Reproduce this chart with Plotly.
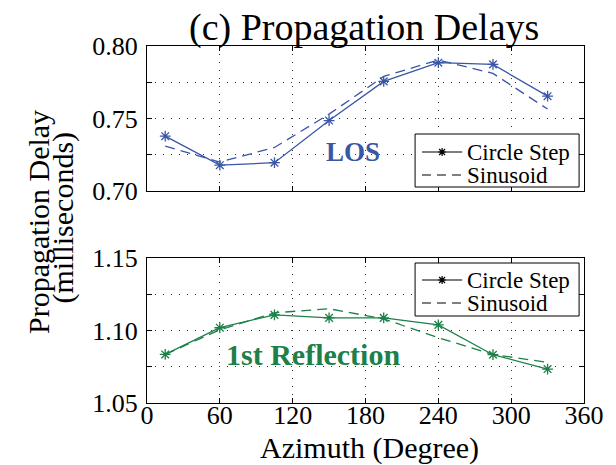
import plotly.graph_objects as go

# Azimuth positions (degrees)
azimuth = [15, 60, 105, 150, 195, 240, 285, 330]

# Line-of-sight delays (milliseconds)
los_circle_step = [0.7378, 0.7178, 0.7195, 0.7486, 0.7756, 0.7885, 0.7873, 0.7654]
los_sinusoid = [0.7310, 0.7200, 0.7300, 0.7530, 0.7790, 0.7903, 0.7811, 0.7565]

# First-reflection delays (milliseconds)
ref_circle_step = [1.0835, 1.1019, 1.1108, 1.1087, 1.1087, 1.1039, 1.0833, 1.0734]
ref_sinusoid = [1.0835, 1.1005, 1.1122, 1.1150, 1.1080, 1.0950, 1.0835, 1.0780]

x_ticks = [0, 60, 120, 180, 240, 300, 360]
los_ticks = [0.70, 0.725, 0.75, 0.775, 0.80]
los_ticktext = ["0.70", "", "0.75", "", "0.80"]
ref_ticks = [1.05, 1.075, 1.10, 1.125, 1.15]
ref_ticktext = ["1.05", "", "1.10", "", "1.15"]

legend_labels = ["Circle Step", "Sinusoid"]

BLUE = "#3A56A6"
GREEN = "#1C8048"
FONT = "Liberation Serif, Times New Roman, serif"

W, H = 616, 465
ML, MR, MT, MB = 147, 24, 46, 62
PW, PH = W - ML - MR, H - MT - MB


def px(x):
    return (x - ML) / PW


def py(y):
    return (H - MB - y) / PH


fig = go.Figure()

panels = [
    ("x", "y", los_circle_step, los_sinusoid, BLUE),
    ("x2", "y2", ref_circle_step, ref_sinusoid, GREEN),
]
for xa, ya, circ, sine, color in panels:
    fig.add_trace(go.Scatter(
        x=azimuth, y=sine, xaxis=xa, yaxis=ya, mode="lines",
        name=legend_labels[1],
        line=dict(color=color, width=1.3, dash="10px,6px"), showlegend=False))
    fig.add_trace(go.Scatter(
        x=azimuth, y=circ, xaxis=xa, yaxis=ya, mode="lines+markers",
        name=legend_labels[0],
        line=dict(color=color, width=1.3),
        marker=dict(symbol="asterisk-open", size=9,
                    line=dict(color=color, width=1.3)),
        showlegend=False))

axis_common = dict(
    showline=True, linecolor="black", linewidth=1, mirror="ticks",
    ticks="inside", ticklen=5, tickcolor="black",
    showgrid=True, gridcolor="#333333", gridwidth=1, griddash="1px,7px",
    zeroline=False, tickfont=dict(family=FONT, size=26, color="black"),
)

top_dom = [py(191), 1.0]
bot_dom = [0.0, py(258)]

fig.update_layout(
    width=W, height=H,
    margin=dict(l=ML, r=MR, t=MT, b=MB),
    paper_bgcolor="white", plot_bgcolor="white",
    font=dict(family=FONT, color="black"),
    showlegend=False,
    xaxis=dict(axis_common, domain=[0, 1], range=[0, 360], tickvals=x_ticks,
               showticklabels=False, anchor="y"),
    yaxis=dict(axis_common, domain=top_dom, range=[0.70, 0.80],
               tickvals=los_ticks, ticktext=los_ticktext, anchor="x",
               ticklabelstandoff=3),
    xaxis2=dict(axis_common, domain=[0, 1], range=[0, 360], tickvals=x_ticks,
                anchor="y2", ticklabelstandoff=-11),
    yaxis2=dict(axis_common, domain=bot_dom, range=[1.05, 1.15],
                tickvals=ref_ticks, ticktext=ref_ticktext, anchor="x2",
                ticklabelstandoff=3),
)

# Boxed legends with black keys, one per panel
shapes = []
annotations = []


def seg(x0, y0, x1, y1):
    return f"M{px(x0)},{py(y0)}L{px(x1)},{py(y1)}"


def add_legend(box_top, box_bottom, row1, row2):
    left, right = 420, 587
    shapes.append(dict(type="rect", xref="paper", yref="paper",
                       x0=px(left), x1=px(right), y0=py(box_bottom), y1=py(box_top),
                       line=dict(color="black", width=1), fillcolor="white",
                       layer="above"))
    k0, k1 = 427, 468
    kc = (k0 + k1) / 2
    shapes.append(dict(type="line", xref="paper", yref="paper",
                       x0=px(k0), x1=px(k1), y0=py(row1), y1=py(row1),
                       line=dict(color="black", width=1.2), layer="above"))
    star = (seg(kc - 4, row1, kc + 4, row1) + seg(kc, row1 - 4, kc, row1 + 4)
            + seg(kc - 3, row1 - 3, kc + 3, row1 + 3)
            + seg(kc - 3, row1 + 3, kc + 3, row1 - 3))
    shapes.append(dict(type="path", xref="paper", yref="paper", path=star,
                       line=dict(color="black", width=1.2), layer="above"))
    shapes.append(dict(type="line", xref="paper", yref="paper",
                       x0=px(k0), x1=px(k1), y0=py(row2), y1=py(row2),
                       line=dict(color="black", width=1.2, dash="9px,6px"),
                       layer="above"))
    for label, row in zip(legend_labels, [row1, row2]):
        annotations.append(dict(text=label, x=px(471), y=py(row),
                                xanchor="left", yanchor="middle",
                                font=dict(family=FONT, size=23, color="black")))


add_legend(134, 187, 152, 175)
add_legend(263, 316, 280, 303)

annotations += [
    dict(text="(c) Propagation Delays", x=px(368), y=py(28),
         font=dict(family=FONT, size=38, color="black")),
    dict(text="Propagation Delay", x=px(36), y=py(222), textangle=-90,
         font=dict(family=FONT, size=30, color="black")),
    dict(text="(milliseconds)", x=px(61), y=py(218), textangle=-90,
         font=dict(family=FONT, size=30, color="black")),
    dict(text="Azimuth (Degree)", x=px(374), y=py(448),
         font=dict(family=FONT, size=30, color="black")),
    dict(text="<b>LOS</b>", x=px(357), y=py(152),
         font=dict(family=FONT, size=27, color=BLUE)),
    dict(text="<b>1st Reflection</b>", x=px(316), y=py(354),
         font=dict(family=FONT, size=30, color=GREEN)),
]
for a in annotations:
    a.update(xref="paper", yref="paper", showarrow=False)
    a.setdefault("xanchor", "center")
    a.setdefault("yanchor", "middle")
fig.update_layout(annotations=annotations, shapes=shapes)

fig.write_html("out.html")
